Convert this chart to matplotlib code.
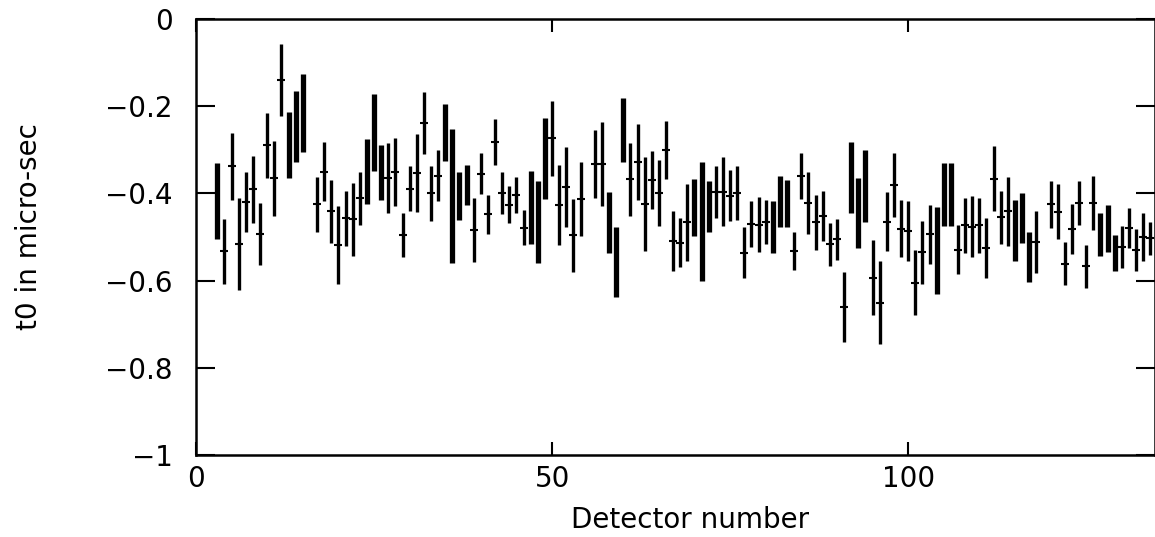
import matplotlib
matplotlib.use("Agg")
import matplotlib.pyplot as plt

# detectors drawn with a thin bar and a centre tick
thin_det = [4, 5, 6, 7, 8, 9, 10, 11, 12,
            17, 18, 19, 20, 21, 22, 23, 27, 28, 29, 30, 31, 32, 33, 34,
            39, 40, 41, 42, 43, 44, 45, 46, 50, 51, 52, 53, 54, 56, 57,
            61, 62, 63, 64, 65, 66, 67, 68, 69, 73, 74, 75, 76, 77, 78, 79, 80,
            84, 85, 86, 87, 88, 89, 90, 91, 95, 96, 97, 98, 99, 100, 101, 102, 103,
            107, 108, 109, 110, 111, 112, 113, 114, 118,
            120, 121, 122, 123, 124, 125, 126, 130, 131, 132, 133, 134]
thin_t0 = [-0.533, -0.338, -0.516, -0.419, -0.391, -0.493, -0.290, -0.365, -0.140,
           -0.425, -0.350, -0.441, -0.519, -0.457, -0.459, -0.411, -0.365, -0.351, -0.496, -0.389, -0.353, -0.238, -0.400, -0.359,
           -0.484, -0.355, -0.448, -0.282, -0.399, -0.426, -0.404, -0.479, -0.274, -0.426, -0.385, -0.496, -0.413, -0.333, -0.333,
           -0.368, -0.327, -0.425, -0.369, -0.399, -0.301, -0.509, -0.513, -0.466, -0.397, -0.396, -0.405, -0.399, -0.536, -0.470, -0.472, -0.466,
           -0.532, -0.360, -0.422, -0.466, -0.452, -0.517, -0.505, -0.660, -0.594, -0.651, -0.465, -0.381, -0.481, -0.487, -0.605, -0.535, -0.494,
           -0.529, -0.473, -0.477, -0.473, -0.525, -0.366, -0.455, -0.441, -0.511,
           -0.425, -0.442, -0.561, -0.482, -0.422, -0.567, -0.422, -0.523, -0.479, -0.530, -0.501, -0.503]
thin_err = [0.075, 0.076, 0.105, 0.069, 0.077, 0.071, 0.075, 0.086, 0.082,
            0.063, 0.068, 0.072, 0.089, 0.063, 0.084, 0.061, 0.081, 0.077, 0.051, 0.051, 0.089, 0.071, 0.064, 0.058,
            0.073, 0.047, 0.044, 0.052, 0.048, 0.043, 0.041, 0.040, 0.087, 0.092, 0.092, 0.084, 0.085, 0.078, 0.097,
            0.084, 0.087, 0.108, 0.067, 0.076, 0.067, 0.068, 0.056, 0.088, 0.059, 0.079, 0.059, 0.062, 0.059, 0.053, 0.063, 0.050,
            0.043, 0.052, 0.072, 0.063, 0.058, 0.049, 0.047, 0.080, 0.086, 0.095, 0.068, 0.074, 0.066, 0.069, 0.075, 0.072, 0.068,
            0.056, 0.063, 0.070, 0.063, 0.069, 0.074, 0.060, 0.079, 0.071,
            0.054, 0.063, 0.049, 0.057, 0.050, 0.049, 0.063, 0.049, 0.046, 0.049, 0.055, 0.038]

# detectors drawn with a thick bar
thick_det = [3, 13, 14, 15, 24, 25, 26, 35, 36, 37, 38, 47, 48, 49, 58, 59, 60,
             70, 71, 72, 81, 82, 83, 92, 93, 94, 104, 105, 106, 115, 116, 117, 127, 128, 129]
thick_t0 = [-0.417, -0.289, -0.246, -0.215, -0.350, -0.260, -0.352, -0.260, -0.406, -0.405, -0.381,
            -0.433, -0.466, -0.320, -0.466, -0.557, -0.255, -0.433, -0.465, -0.430, -0.477, -0.418, -0.423,
            -0.364, -0.445, -0.383, -0.531, -0.403, -0.403, -0.485, -0.456, -0.546, -0.494, -0.481, -0.537]
thick_err = [0.087, 0.076, 0.082, 0.090, 0.074, 0.089, 0.062, 0.066, 0.154, 0.055, 0.046,
             0.084, 0.094, 0.092, 0.070, 0.081, 0.073, 0.065, 0.137, 0.058, 0.060, 0.058, 0.054,
             0.082, 0.080, 0.082, 0.100, 0.072, 0.072, 0.071, 0.058, 0.058, 0.050, 0.054, 0.042]

yticks = [0, -0.2, -0.4, -0.6, -0.8, -1]
ytick_labels = ["0", "\u22120.2", "\u22120.4", "\u22120.6", "\u22120.8", "\u22121"]
xticks = [0, 50, 100]
xtick_labels = ["0", "50", "100"]


def main():
    plt.rcParams['font.family'] = ['DejaVu Sans']
    fig = plt.figure(figsize=(11.55, 5.37), dpi=100)
    ax = fig.add_axes([0.1697, 0.1527, 0.8299, 0.8119])

    ax.errorbar(thin_det, thin_t0, yerr=thin_err, fmt='_', color='black',
                ms=6, mew=1.5, elinewidth=2.4, capsize=0)
    ax.errorbar(thick_det, thick_t0, yerr=thick_err, fmt='none', color='black',
                elinewidth=3.8, capsize=0)

    ax.set_xlim(0, 134.6)
    ax.set_ylim(-1, 0)
    ax.set_xticks(xticks)
    ax.set_xticklabels(xtick_labels)
    ax.set_yticks(yticks)
    ax.set_yticklabels(ytick_labels)

    ax.tick_params(axis='y', direction='in', length=13.5, width=1.5, left=True, right=True,
                   labelsize=20, pad=17)
    ax.tick_params(axis='x', direction='in', length=9.5, width=1.5, top=True, bottom=True,
                   labelsize=20, pad=7)
    for sp in ax.spines.values():
        sp.set_linewidth(1.8)

    ax.set_xlabel("Detector number", fontsize=20)
    ax.xaxis.set_label_coords(0.515, -0.149)
    ax.xaxis.label.set_va('center')
    ax.set_ylabel("t0 in micro-sec", fontsize=20)
    ax.yaxis.set_label_coords(-0.174, 0.525)
    ax.yaxis.label.set_va('center')

    fig.savefig("out.png", dpi=100)


if __name__ == '__main__':
    main()
